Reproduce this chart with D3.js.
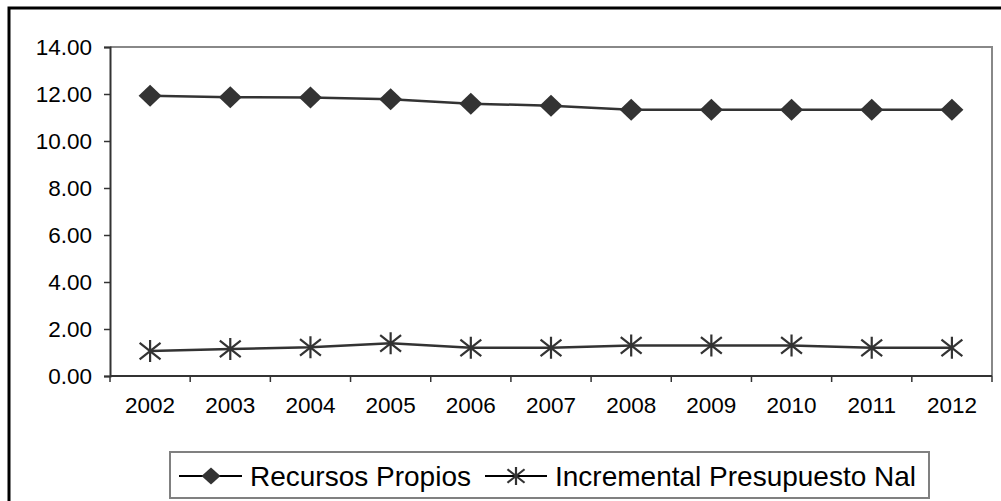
<!DOCTYPE html>
<html><head><meta charset="utf-8">
<script src="https://cdn.jsdelivr.net/npm/d3@7"></script>
<style>body{margin:0;background:#fff}svg{display:block}text{font-family:Arial,"Liberation Sans",sans-serif}</style>
</head><body>
<script>
const years = ["2002","2003","2004","2005","2006","2007","2008","2009","2010","2011","2012"];
const recursosPropios = [11.93,11.86,11.85,11.78,11.59,11.50,11.33,11.33,11.33,11.33,11.33];
const incremental = [1.06,1.15,1.22,1.39,1.20,1.20,1.30,1.30,1.30,1.20,1.20];
const yTicks = [0,2,4,6,8,10,12,14];
const seriesNames = ["Recursos Propios","Incremental Presupuesto Nal"];

const W=1001,H=501;
const svg=d3.select("body").append("svg").attr("width",W).attr("height",H);
svg.append("rect").attr("width",W).attr("height",H).attr("fill","#fff");
// outer border
svg.append("rect").attr("x",9).attr("y",8).attr("width",1100).attr("height",600)
  .attr("fill","none").attr("stroke","#000").attr("stroke-width",3);

const L=110,R=992,T=47,B=376;
const x=d3.scaleBand().domain(years).range([L,R]).paddingInner(0).paddingOuter(0);
const y=d3.scaleLinear().domain([0,14]).range([B,T]);
const cx=d=>x(d)+x.bandwidth()/2;

// plot frame top/right
svg.append("path").attr("d",`M${L},${T}H${R}V${B}`).attr("fill","none").attr("stroke","#888").attr("stroke-width",2);

// y axis
const ya=svg.append("g").attr("transform",`translate(${L},0)`)
  .call(d3.axisLeft(y).tickValues(yTicks).tickFormat(d3.format(".2f")).tickSize(6).tickPadding(12));
ya.select(".domain").attr("stroke","#333").attr("stroke-width",2);
ya.selectAll(".tick line").attr("stroke","#333").attr("stroke-width",1.5);
ya.selectAll("text").attr("font-size",22.5).attr("fill","#000");

// x axis with ticks at boundaries
const xa=svg.append("g").attr("transform",`translate(0,${B})`);
xa.append("line").attr("x1",L).attr("x2",R).attr("stroke","#333").attr("stroke-width",2);
const bounds=years.map(d=>x(d)).concat([R]);
xa.selectAll("line.tk").data(bounds).join("line").attr("class","tk")
  .attr("x1",d=>d).attr("x2",d=>d).attr("y1",0).attr("y2",6).attr("stroke","#333").attr("stroke-width",1.5);
xa.selectAll("text").data(years).join("text")
  .attr("x",d=>cx(d)).attr("y",37).attr("text-anchor","middle").attr("font-size",22.5).attr("fill","#000").text(d=>d);

const col="#333";
const line=d3.line().x((d,i)=>cx(years[i])).y(d=>y(d));
svg.append("path").datum(recursosPropios).attr("d",line).attr("fill","none").attr("stroke",col).attr("stroke-width",2.5);
svg.append("path").datum(incremental).attr("d",line).attr("fill","none").attr("stroke",col).attr("stroke-width",2.5);

function diamond(g,cx0,cy0,hw,hh){
  g.append("path").attr("d",`M${cx0-hw},${cy0}L${cx0},${cy0-hh}L${cx0+hw},${cy0}L${cx0},${cy0+hh}Z`).attr("fill",col);
}
function star(g,cx0,cy0,r){
  const dx=r*0.95, dy=r*0.75;
  g.append("path").attr("d",`M${cx0},${cy0-r}V${cy0+r}M${cx0-dx},${cy0-dy}L${cx0+dx},${cy0+dy}M${cx0-dx},${cy0+dy}L${cx0+dx},${cy0-dy}`)
    .attr("stroke",col).attr("stroke-width",2.2).attr("fill","none");
}
const gm=svg.append("g");
recursosPropios.forEach((v,i)=>diamond(gm,cx(years[i]),y(v),11.5,11));
incremental.forEach((v,i)=>star(gm,cx(years[i]),y(v),11));

// legend
const lg=svg.append("g");
lg.append("rect").attr("x",170).attr("y",452).attr("width",759).attr("height",46)
  .attr("fill","#fff").attr("stroke","#808080").attr("stroke-width",2);
const ly=476;
lg.append("line").attr("x1",179).attr("x2",242).attr("y1",ly).attr("y2",ly).attr("stroke","#000").attr("stroke-width",2);
diamond(lg,211,ly,9.5,8.5);
lg.append("text").attr("x",250).attr("y",ly+10).attr("font-size",28).attr("fill","#000").text(seriesNames[0]);
lg.append("line").attr("x1",485).attr("x2",547).attr("y1",ly).attr("y2",ly).attr("stroke","#000").attr("stroke-width",2);
star(lg,516,ly,9);
lg.append("text").attr("x",555).attr("y",ly+10).attr("font-size",28).attr("fill","#000").text(seriesNames[1]);
</script>
</body></html>
